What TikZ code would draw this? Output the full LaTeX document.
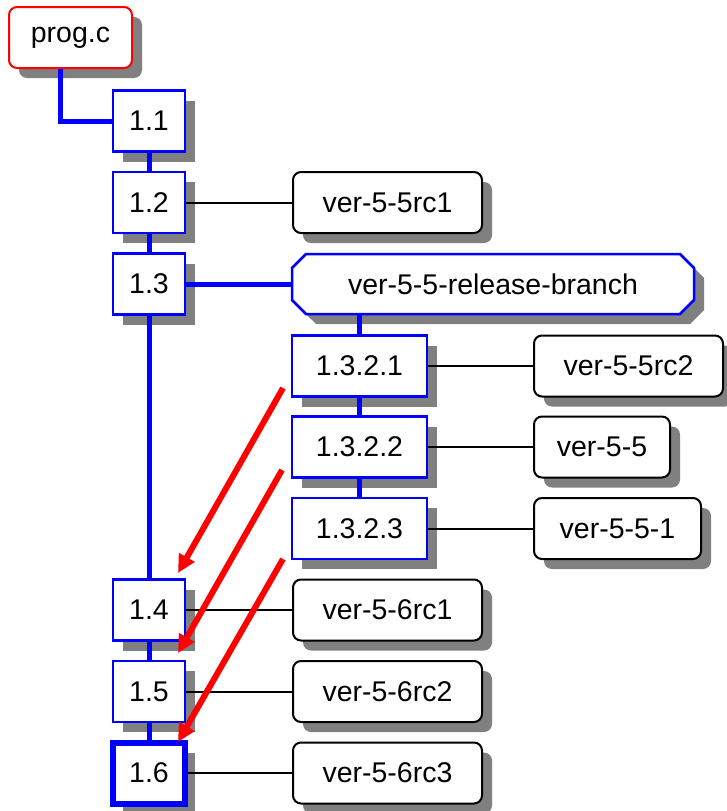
\documentclass[tikz,border=0pt]{standalone}
\usepackage{fontspec}
\setmainfont{Liberation Sans}
\usetikzlibrary{shadows,shapes.misc,arrows.meta}
\tikzset{
  boxshadow/.style={drop shadow={shadow xshift=10pt,shadow yshift=-10pt,opacity=1,fill=black!50}},
  filebox/.style={draw=red,line width=2pt,rounded corners=8pt,fill=white,boxshadow,minimum width=123pt,minimum height=61pt},
  revbox/.style={draw=blue,line width=2.5pt,fill=white,boxshadow,minimum width=72pt,minimum height=61pt},
  brrevbox/.style={revbox,minimum width=135pt},
  tagbox/.style={draw=black,line width=2pt,rounded corners=8pt,fill=white,boxshadow,minimum width=189pt,minimum height=61pt,anchor=west},
  branchbox/.style={chamfered rectangle,chamfered rectangle xsep=7pt,chamfered rectangle ysep=7pt,draw=blue,line width=2.5pt,fill=white,boxshadow,minimum width=402pt,minimum height=60pt},
  trunk/.style={blue,line width=5pt},
  taglink/.style={black,line width=2pt},
  merge/.style={red,line width=6pt,-{Triangle[length=18pt,width=17pt]}}
}
\begin{document}
\begin{tikzpicture}[x=1pt,y=-1pt,every node/.style={font=\fontsize{28.5}{34}\selectfont}]
		\useasboundingbox (0,0) rectangle (726,811);
		% file and trunk
		\node[filebox] (prog) at (70.5,37.5) {prog.c};
		\node[revbox] (r11) at (149,121) {1.1};
		\node[revbox] (r12) at (149,202.5) {1.2};
		\node[revbox] (r13) at (149,284) {1.3};
		\node[revbox] (r14) at (149,610) {1.4};
		\node[revbox] (r15) at (149,691.5) {1.5};
		\node[revbox,line width=6pt] (r16) at (149,773) {1.6};
		%
		% branch
		\node[branchbox] (br) at (493,284) {ver-5-5-release-branch};
		\node[brrevbox] (b1) at (359.5,366) {1.3.2.1};
		\node[brrevbox] (b2) at (359.5,447) {1.3.2.2};
		\node[brrevbox] (b3) at (359.5,528.5) {1.3.2.3};
		%
		% tags
		\node[tagbox] (t55rc1) at (292,202.5) {ver-5-5rc1};
		\node[tagbox] (t55rc2) at (533,366) {ver-5-5rc2};
		\node[tagbox,minimum width=136pt] (t55) at (533,447) {ver-5-5};
		\node[tagbox,minimum width=167pt] (t551) at (533,528.5) {ver-5-5-1};
		\node[tagbox] (t56rc1) at (292,610) {ver-5-6rc1};
		\node[tagbox] (t56rc2) at (292,691.5) {ver-5-6rc2};
		\node[tagbox] (t56rc3) at (292,773) {ver-5-6rc3};
		%
		\draw[trunk] ([xshift=-10.5pt]prog.south) |- (r11.west);
		\draw[trunk] (r11.south) -- (r12.north);
		\draw[trunk] (r12.south) -- (r13.north);
		\draw[trunk] (r13.south) -- (r14.north);
		\draw[trunk] (r14.south) -- (r15.north);
		\draw[trunk] (r15.south) -- (r16.north);
		\draw[trunk] (r13.east) -- (br.west);
		\draw[trunk] (br.south -| b1.north) -- (b1.north);
		\draw[trunk] (b1.south) -- (b2.north);
		\draw[trunk] (b2.south) -- (b3.north);
		%
		\draw[taglink] (r12.east) -- (t55rc1.west);
		\draw[taglink] (b1.east) -- (t55rc2.west);
		\draw[taglink] (b2.east) -- (t55.west);
		\draw[taglink] (b3.east) -- (t551.west);
		\draw[taglink] (r14.east) -- (t56rc1.west);
		\draw[taglink] (r15.east) -- (t56rc2.west);
		\draw[taglink] (r16.east) -- (t56rc3.west);
		%
		% merges back to the trunk
		\coordinate (m1) at (283,388);
		\coordinate (m2) at (282,470);
		\coordinate (m3) at (283,559);
		\coordinate (h4) at (178,573);
		\coordinate (h5) at (178,653);
		\coordinate (h6) at (178,742);
		\draw[merge] (m1) -- (h4);
		\draw[merge] (m2) -- (h5);
		\draw[merge] (m3) -- (h6);
	\end{tikzpicture}
\end{document}
